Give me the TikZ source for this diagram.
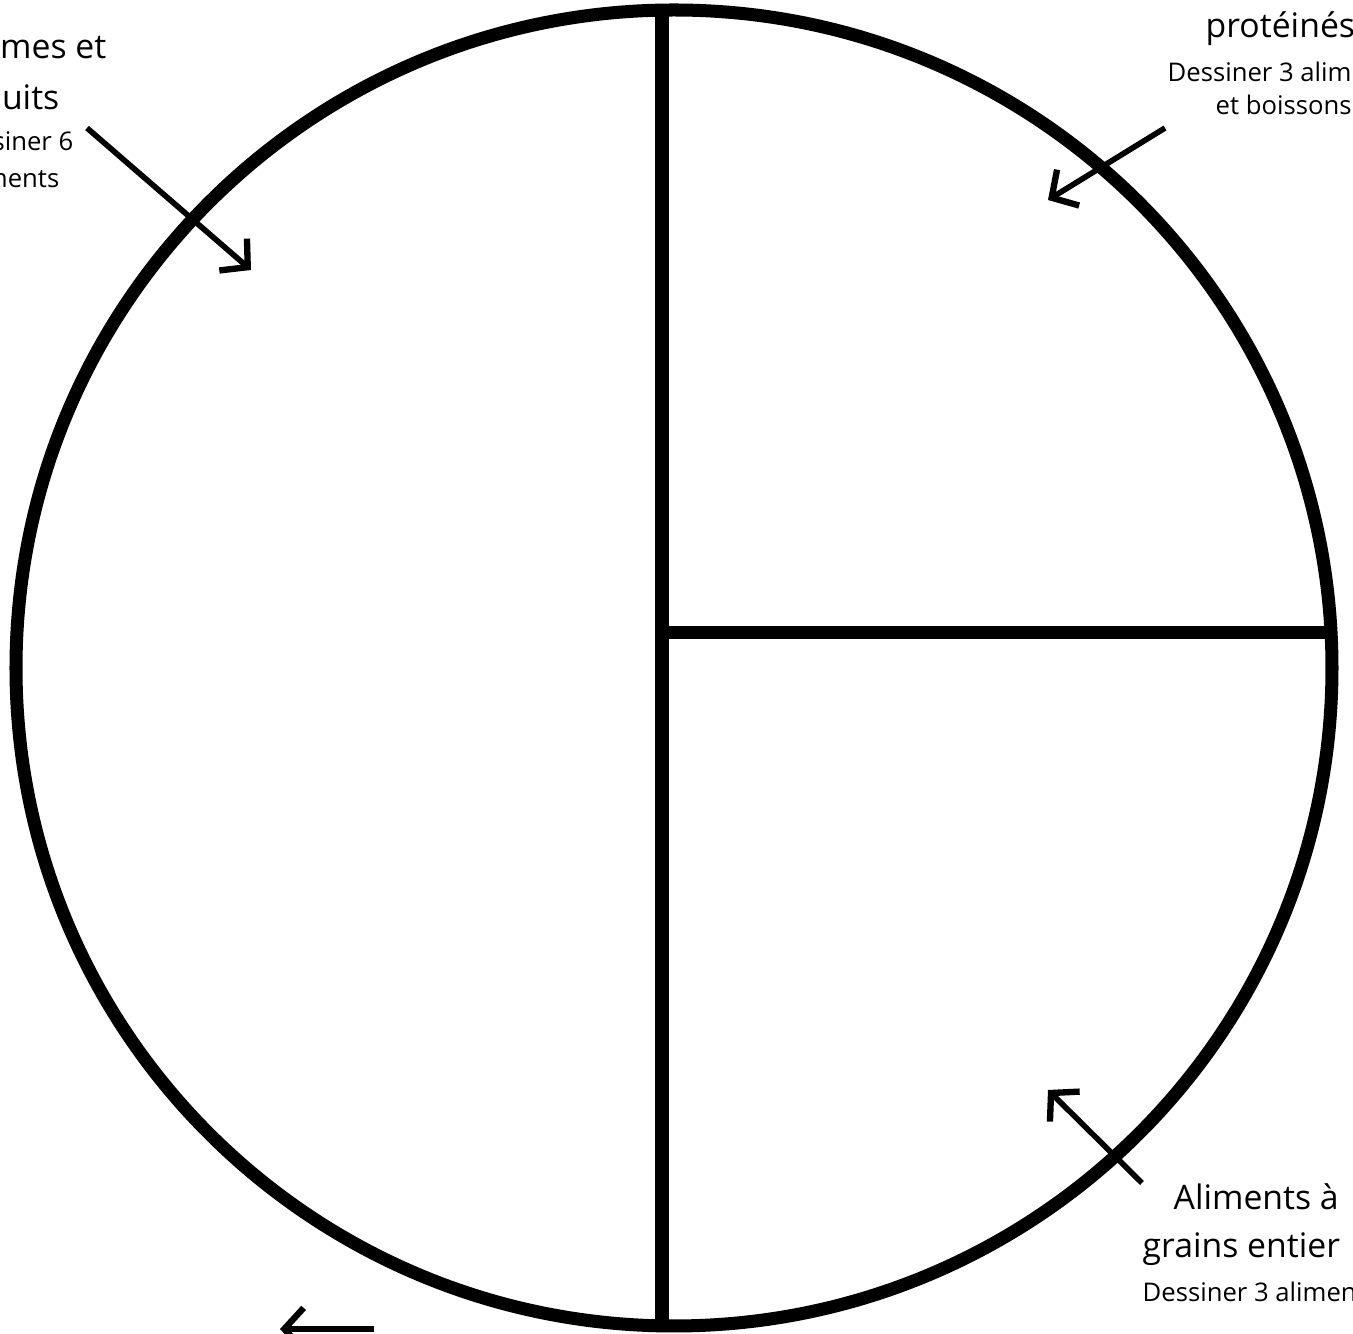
\documentclass[tikz,border=0pt]{standalone}
\usepackage{fontspec}
\setmainfont{Open Sans}
\usetikzlibrary{arrows.meta}
\begin{document}
\begin{tikzpicture}[x=0.01cm,y=-0.01cm,
  rim/.style={line width=3.7pt},
  pointer/.style={line width=1.6pt,-{Straight Barb[length=5.5pt,width=12pt,line width=1.8pt]}},
  bigtxt/.style={font=\fontsize{9.6}{10}\selectfont,inner sep=0pt},
  smalltxt/.style={font=\fontsize{7.3}{8}\selectfont,inner sep=0pt}]
\useasboundingbox (0,0) rectangle (1353,1334);
% plate
\draw[rim] (674,668) circle (658);
\draw[rim] (662,10) -- (662,1326);
\draw[rim] (662,633) -- (1331,633);
% legumes et fruits
\node[bigtxt,anchor=base east] (vf1) at (107,59) {mes et};
\node[bigtxt,anchor=base east] (vf2) at (60,110) {uits};
\node[smalltxt,anchor=base east] (vf3) at (74,151) {siner 6};
\node[smalltxt,anchor=base east] (vf4) at (60,188) {ments};
\coordinate (vftail) at (87,128);
\coordinate (vftip) at (251,270);
\draw[pointer] (vftail) -- (vftip);
% aliments proteines
\node[bigtxt,anchor=base west] (pr1) at (1205,38) {protéinés};
\node[smalltxt,anchor=base west] (pr2) at (1167,82) {Dessiner 3 alim};
\node[smalltxt,anchor=base west] (pr3) at (1215,115) {et boissons};
\coordinate (prtail) at (1165,128);
\coordinate (prtip) at (1048,200);
\draw[pointer] (prtail) -- (prtip);
% grains entiers
\node[bigtxt,anchor=base west] (ge1) at (1173,1210) {Aliments à};
\node[bigtxt,anchor=base west] (ge2) at (1142,1258) {grains entier};
\node[smalltxt,anchor=base west] (ge3) at (1142,1302) {Dessiner 3 alimen};
\coordinate (getail) at (1142,1183);
\coordinate (getip) at (1048,1090);
\draw[pointer] (getail) -- (getip);
% eau
\coordinate (eautail) at (374,1329);
\coordinate (eautip) at (280,1329);
\draw[pointer] (eautail) -- (eautip);
\end{tikzpicture}
\end{document}
